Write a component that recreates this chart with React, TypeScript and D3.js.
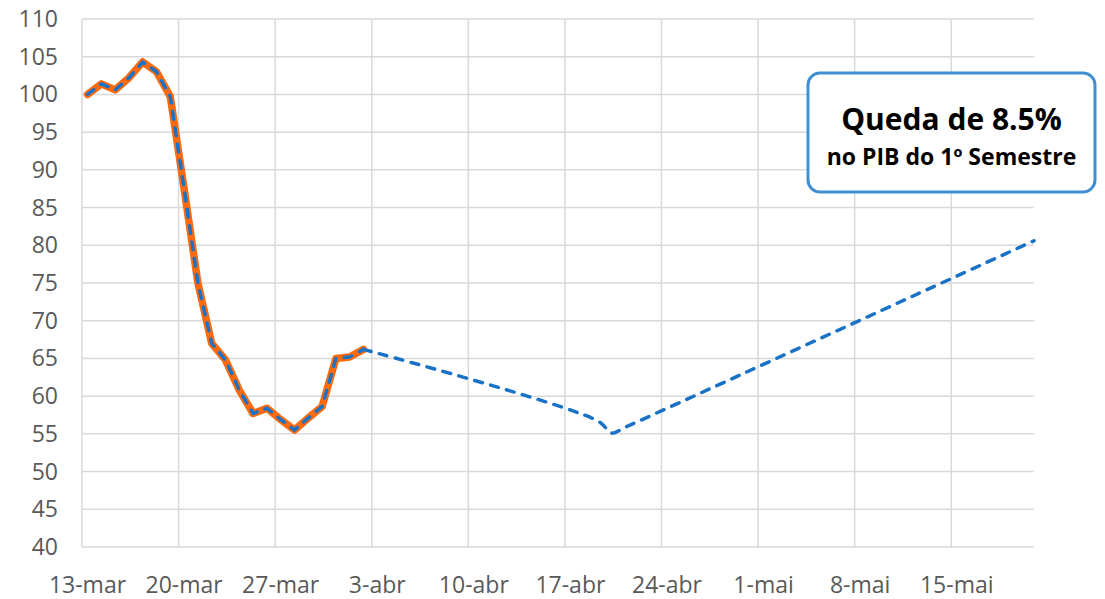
import React from "react";
import * as d3 from "d3";

// ---- data ----
const tickLabels = ["13-mar", "20-mar", "27-mar", "3-abr", "10-abr", "17-abr", "24-abr", "1-mai", "8-mai", "15-mai"];
const tickDays = [0, 7, 14, 21, 28, 35, 42, 49, 56, 63];
const yTicks = [40, 45, 50, 55, 60, 65, 70, 75, 80, 85, 90, 95, 100, 105, 110];

// daily index observed (days since 13-mar)
const histDays = [0, 1, 2, 3, 4, 5, 6, 7, 8, 9, 10, 11, 12, 13, 14, 15, 16, 17, 18, 19, 20];
const histValues = [100, 101.4, 100.6, 102.2, 104.3, 103, 99.7, 87.5, 75, 67, 64.8, 60.8, 57.7, 58.4, 56.9, 55.5, 57.1, 58.6, 65.0, 65.2, 66.2];

// projection (days since 13-mar)
const projDays = [20, 37, 38, 39, 68.6];
const projValues = [66.2, 56.7, 55.1, 55.9, 80.6];

const boxTitle = "Queda de 8.5%";
const boxSubtitle = "no PIB do 1º Semestre";

const W = 1105;
const H = 599;
const M = { left: 82, right: 1034, top: 19, bottom: 547 };
const POINT_OFFSET = 0.4;

export default function App() {
  const x = d3.scaleLinear().domain([0, 69]).range([M.left, M.right]);
  const y = d3.scaleLinear().domain([40, 110]).range([M.bottom, M.top]);

  const hist = histDays.map((d, i) => [d, histValues[i]] as [number, number]);
  const proj = projDays.map((d, i) => [d, projValues[i]] as [number, number]);

  const lineLinear = d3
    .line<[number, number]>()
    .x((p) => x(p[0] + POINT_OFFSET))
    .y((p) => y(p[1]));
  const lineSmooth = d3
    .line<[number, number]>()
    .x((p) => x(p[0] + POINT_OFFSET))
    .y((p) => y(p[1]))
    .curve(d3.curveCatmullRom.alpha(0.5));

  const gridColor = "#D9D9D9";
  const labelColor = "#595959";
  const font = "'Open Sans', 'Noto Sans', sans-serif";
  const blue = "#1A72C6";
  const orange = "#FF6A0D";

  const box = { x: 808, y: 73, w: 287, h: 119 };
  const boxCx = box.x + box.w / 2;

  return (
    <svg width={W} height={H} style={{ position: "absolute", left: 0, top: 0, background: "#fff" }}>
      {/* horizontal gridlines */}
      {yTicks.map((t) => (
        <line key={"h" + t} x1={M.left} x2={M.right} y1={y(t)} y2={y(t)} stroke={gridColor} strokeWidth={1.5} />
      ))}
      {/* vertical gridlines */}
      {tickDays.map((d) => (
        <line key={"v" + d} x1={x(d)} x2={x(d)} y1={M.top} y2={M.bottom} stroke={gridColor} strokeWidth={1.5} />
      ))}
      {/* y labels */}
      {yTicks.map((t) => (
        <text
          key={"yl" + t}
          x={58}
          y={y(t)}
          dy="0.35em"
          textAnchor="end"
          fontFamily={font}
          fontSize={23}
          fill={labelColor}
        >
          {t}
        </text>
      ))}
      {/* x labels */}
      {tickDays.map((d, i) => (
        <text
          key={"xl" + d}
          x={x(d + POINT_OFFSET)}
          y={593}
          textAnchor="middle"
          fontFamily={font}
          fontSize={23}
          fill={labelColor}
        >
          {tickLabels[i]}
        </text>
      ))}

      {/* orange historical */}
      <path d={lineLinear(hist) || ""} fill="none" stroke={orange} strokeWidth={7.5} strokeLinejoin="round" strokeLinecap="round" />
      {/* blue dashed over historical */}
      <path
        d={lineLinear(hist) || ""}
        fill="none"
        stroke={blue}
        strokeWidth={3.5}
        strokeDasharray="8 8.5"
        strokeLinecap="round"
        strokeLinejoin="round"
      />
      {/* blue dashed projection */}
      <path
        d={lineSmooth(proj) || ""}
        fill="none"
        stroke={blue}
        strokeWidth={3.5}
        strokeDasharray="8 8.5"
        strokeLinecap="round"
        strokeLinejoin="round"
      />

      {/* annotation box */}
      <rect x={box.x} y={box.y} width={box.w} height={box.h} rx={12} ry={12} fill="#fff" stroke="#3F8FD2" strokeWidth={3} />
      <text x={boxCx} y={130} textAnchor="middle" fontFamily={font} fontWeight={700} fontSize={30} fill="#000">
        {boxTitle}
      </text>
      <text x={boxCx} y={165} textAnchor="middle" fontFamily={font} fontWeight={700} fontSize={23} fill="#000">
        {boxSubtitle}
      </text>
    </svg>
  );
}
